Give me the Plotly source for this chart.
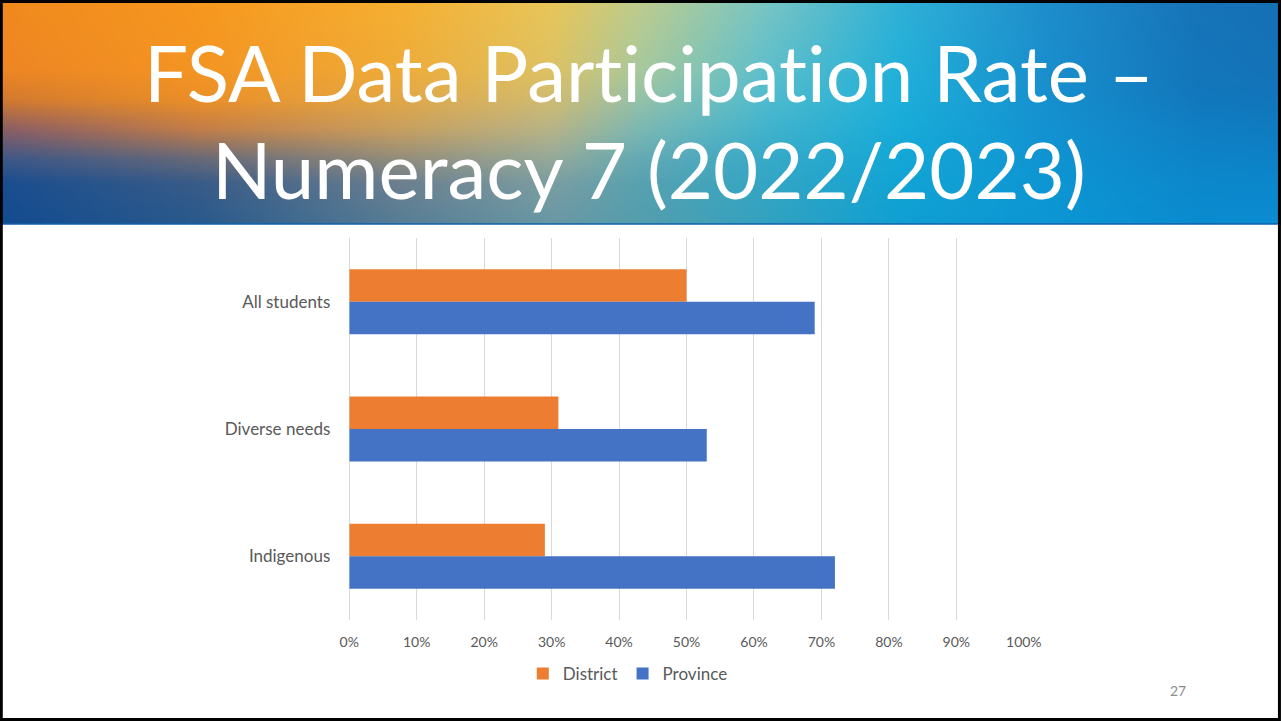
import numpy as np
import zlib, struct, base64
import plotly.graph_objects as go

# ---------------- data ----------------
categories = ["All students", "Diverse needs", "Indigenous"]
district = [0.50, 0.31, 0.29]
province = [0.69, 0.53, 0.72]
series_names = ["District", "Province"]
tick_values = [0, 0.1, 0.2, 0.3, 0.4, 0.5, 0.6, 0.7, 0.8, 0.9, 1.0]
# \u200c (zero-width non-joiner) keeps the "ti" pairs from becoming ligatures
title_line1 = "FSA Data Participation Rate \u2013".replace("ti", "t\u200ci")
title_line2 = "Numeracy 7 (2022/2023)"
page_number = "27"

# ---------------- banner gradient (style) ----------------
W_PX, H_PX = 1310, 721
REF_W = 1281
BANNER_H = 224
cx = [0, 200, 400, 550, 640, 760, 900, 1050, 1200, 1281]
cy = [0, 70, 100, 130, 160, 185, 225]
grid_hex = [
    ["F08A1E", "F7981F", "F6B032", "E9C65A", "BDCC8E", "7CC6C4", "30B1D8", "1E8DCB", "1774B8", "1670B5"],
    ["EE8624", "F49523", "EFAC3A", "DEC264", "A8C99E", "62C0CA", "22B0D9", "1A8ECD", "1476BB", "1473B8"],
    ["D27A30", "EC9028", "E2A848", "D0BC72", "94C2AA", "52BCCE", "1EAFDA", "1790CF", "1278BD", "1276BC"],
    ["8A5E66", "C47E48", "C8A060", "B8B488", "7CB8B4", "44B4CC", "18ACD9", "1492D1", "107FC4", "107CC2"],
    ["3E5888", "6A6A78", "948E7C", "96AA9A", "64AAB4", "3AAAC8", "14A8D7", "1094D2", "0E84C8", "0E82C6"],
    ["1A4E90", "3A5C88", "6C8090", "7C9EA2", "58A2B0", "36A6C4", "12A4D5", "0E96D3", "0C88CC", "0C87CC"],
    ["134C90", "2A5A8C", "587E96", "6A98A4", "549EAE", "35A2C0", "10A0D3", "0C96D4", "0B8CD0", "0B8CD2"],
]


def hex2rgb(h):
    return [int(h[i:i + 2], 16) for i in (0, 2, 4)]


G = np.array([[hex2rgb(h) for h in row] for row in grid_hex], float)
IW, IH = 321, 57
xs = np.linspace(0, 1281, IW)
ys = np.linspace(0, 225, IH)
rows_i = np.stack([np.stack([np.interp(xs, cx, G[r, :, c]) for c in range(3)], -1)
                   for r in range(len(cy))])  # R x W x 3
img = np.stack([np.stack([np.interp(ys, cy, rows_i[:, i, c]) for c in range(3)], -1)
                for i in range(IW)], 1)  # H x W x 3
img = np.clip(img, 0, 255).astype(np.uint8)


def png_uri(arr):
    h, w, _ = arr.shape
    raw = b"".join(b"\x00" + arr[r].tobytes() for r in range(h))

    def chunk(t, d):
        c = struct.pack(">I", len(d)) + t + d
        return c + struct.pack(">I", zlib.crc32(t + d) & 0xFFFFFFFF)

    png = b"\x89PNG\r\n\x1a\n" + chunk(b"IHDR", struct.pack(">IIBBBBB", w, h, 8, 2, 0, 0, 0)) \
        + chunk(b"IDAT", zlib.compress(raw, 9)) + chunk(b"IEND", b"")
    return "data:image/png;base64," + base64.b64encode(png).decode()


banner_uri = png_uri(img)

# ---------------- figure ----------------
FONT = "Lato, Carlito, Calibri, sans-serif"
GRAY = "#595959"

fig = go.Figure()
fig.add_trace(go.Bar(y=categories, x=district, name=series_names[0], orientation="h",
                     marker=dict(color="#ED7D31", line=dict(width=0))))
fig.add_trace(go.Bar(y=categories, x=province, name=series_names[1], orientation="h",
                     marker=dict(color="#4472C4", line=dict(width=0))))


def px_x(p):
    return p / REF_W


def px_y(p):
    return 1 - p / H_PX


fig.update_layout(
    width=W_PX, height=H_PX, autosize=False,
    margin=dict(l=0, r=0, t=0, b=0),
    paper_bgcolor="white", plot_bgcolor="white",
    barmode="group", bargap=0.49, bargroupgap=0,
    showlegend=True,
    legend=dict(orientation="h", x=0.4897, xanchor="center", y=px_y(674), yanchor="middle",
                font=dict(family=FONT, size=17, color=GRAY), traceorder="normal",
                itemwidth=30, bgcolor="rgba(0,0,0,0)"),
    xaxis=dict(domain=[px_x(349), px_x(1023)], range=[0, 1], tickvals=tick_values,
               tickformat=".0%", showgrid=True, gridcolor="#D9D9D9", gridwidth=1,
               zeroline=True, zerolinecolor="#D9D9D9", zerolinewidth=1, showline=False,
               ticks="", ticklabelstandoff=12,
               tickfont=dict(family=FONT, size=14, color=GRAY), fixedrange=True),
    yaxis=dict(domain=[px_y(620), px_y(238)], autorange="reversed", showgrid=False,
               showline=False, zeroline=False, ticks="", ticklabelstandoff=18,
               tickfont=dict(family=FONT, size=17, color=GRAY), fixedrange=True),
    images=[dict(source=banner_uri, xref="paper", yref="paper", x=0, y=1,
                 sizex=1, sizey=BANNER_H / H_PX, sizing="stretch", xanchor="left",
                 yanchor="top", layer="below")],
    shapes=[
        dict(type="line", xref="paper", yref="paper", x0=0, x1=1, y0=px_y(BANNER_H),
             y1=px_y(BANNER_H), line=dict(color="#1060A8", width=1.5)),
        dict(type="rect", xref="paper", yref="paper", x0=0.001, x1=0.998, y0=0.002, y1=0.998,
             line=dict(color="black", width=3), fillcolor="rgba(0,0,0,0)"),
    ],
    annotations=[
        dict(text=title_line1, xref="paper", yref="paper", x=px_x(648), y=px_y(72),
             xanchor="center", yanchor="middle", showarrow=False,
             font=dict(family=FONT, size=78, color="white")),
        dict(text=title_line2, xref="paper", yref="paper", x=px_x(648), y=px_y(169),
             xanchor="center", yanchor="middle", showarrow=False,
             font=dict(family=FONT, size=78, color="white")),
        dict(text=page_number, xref="paper", yref="paper", x=px_x(1177), y=px_y(690),
             xanchor="center", yanchor="middle", showarrow=False,
             font=dict(family=FONT, size=14, color="#8C8C8C")),
    ],
)

post_js = """
document.documentElement.style.margin='0';
document.documentElement.style.overflow='hidden';
document.body.style.margin='0';
document.body.style.padding='0';
document.body.style.overflow='hidden';
var gd = document.getElementById('{plot_id}');
gd.style.position='relative';
gd.style.left='-10px';
"""

fig.write_html("out.html", config={"displayModeBar": False}, post_script=post_js)
